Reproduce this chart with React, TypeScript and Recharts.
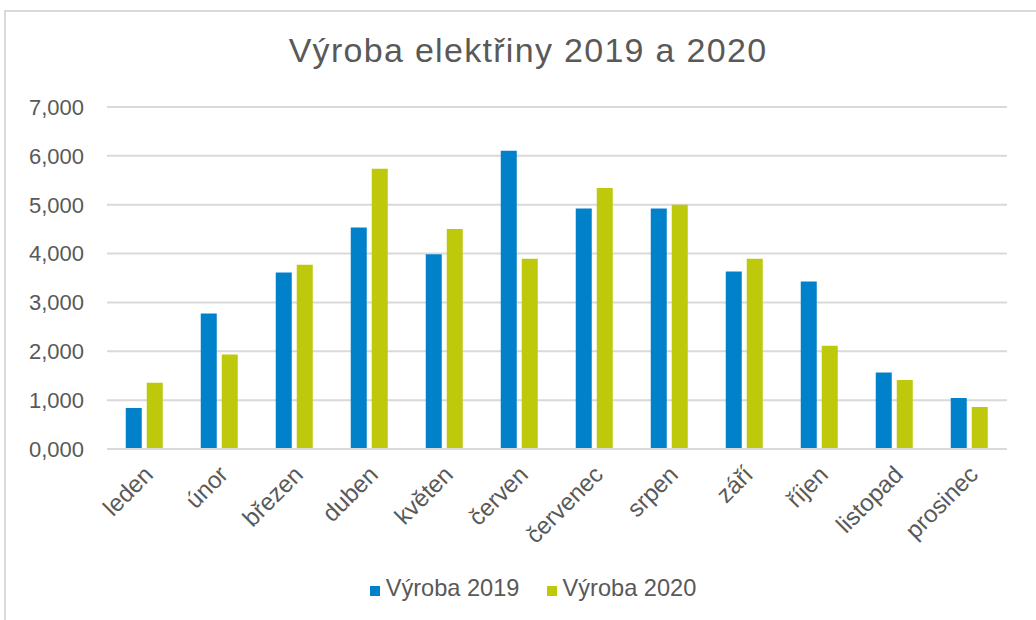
import React from "react";
import { BarChart, Bar, XAxis, YAxis, CartesianGrid } from "recharts";

const months = ["leden", "únor", "březen", "duben", "květen", "červen", "červenec", "srpen", "září", "říjen", "listopad", "prosinec"];
const vyroba2019 = [0.84, 2.775, 3.615, 4.535, 3.985, 6.105, 4.925, 4.925, 3.635, 3.43, 1.568, 1.044];
const vyroba2020 = [1.357, 1.935, 3.77, 5.737, 4.503, 3.895, 5.342, 5.0, 3.895, 2.114, 1.412, 0.86];
const yTicks = [0, 1, 2, 3, 4, 5, 6, 7];
const seriesNames = ["Výroba 2019", "Výroba 2020"];
const seriesColors = ["#0081C9", "#BDC90A"];
const title = "Výroba elektřiny 2019 a 2020";

const data = months.map((m, i) => ({ month: m, v2019: vyroba2019[i], v2020: vyroba2020[i] }));

const FONT = "'Liberation Sans', Arial, sans-serif";
const TXT = "#595959";

const fmt = (v: number) => v.toFixed(3).replace(".", ",");

const XTick = (props: any) => {
  const { x, y, payload } = props;
  return (
    <g transform={`translate(${x + 10},${y + 27})`}>
      <text transform="rotate(-45)" textAnchor="end" fill={TXT} fontSize={24} fontFamily={FONT}>
        {payload.value}
      </text>
    </g>
  );
};

export default function App() {
  return (
    <div style={{ position: "absolute", left: 0, top: 0, width: 1036, height: 620, overflow: "hidden", background: "#fff" }}>
      <div style={{ position: "absolute", left: 4, top: 10, width: 1100, height: 700, border: "2px solid #d9d9d9", boxSizing: "border-box" }} />
      <div style={{ position: "absolute", left: 0, top: 33, width: 1056, textAlign: "center", fontFamily: FONT, fontSize: 34, lineHeight: "34px", letterSpacing: 1.3, color: TXT, whiteSpace: "nowrap" }}>
        {title}
      </div>
      <div style={{ position: "absolute", left: 0, top: 0 }}>
        <BarChart width={1036} height={620} data={data} margin={{ top: 107, right: 29, bottom: 0, left: 0 }} barCategoryGap="25%" barGap={5}>
          <CartesianGrid vertical={false} stroke="#d9d9d9" strokeWidth={2} />
          <XAxis dataKey="month" height={171} axisLine={{ stroke: "#d9d9d9", strokeWidth: 2 }} tickLine={false} tickSize={0} tickMargin={0} interval={0} tick={<XTick />} />
          <YAxis width={107} domain={[0, 7]} ticks={yTicks} axisLine={false} tickLine={false} tickSize={0} tickMargin={23} tickFormatter={fmt} tick={{ fill: TXT, fontSize: 22, fontFamily: FONT }} />
          <Bar dataKey="v2019" name={seriesNames[0]} fill={seriesColors[0]} isAnimationActive={false} />
          <Bar dataKey="v2020" name={seriesNames[1]} fill={seriesColors[1]} isAnimationActive={false} />
        </BarChart>
      </div>
      <div style={{ position: "absolute", left: 0, top: 577, width: 1066, display: "flex", justifyContent: "center", fontFamily: FONT, fontSize: 23.6, lineHeight: "23px", color: TXT, whiteSpace: "nowrap" }}>
        {seriesNames.map((n, i) => (
          <div key={n} style={{ display: "flex", alignItems: "center", marginRight: i === 0 ? 27 : 0 }}>
            <span style={{ display: "inline-block", width: 10, height: 10, background: seriesColors[i], marginRight: 6, marginTop: 4 }} />
            <span>{n}</span>
          </div>
        ))}
      </div>
    </div>
  );
}
